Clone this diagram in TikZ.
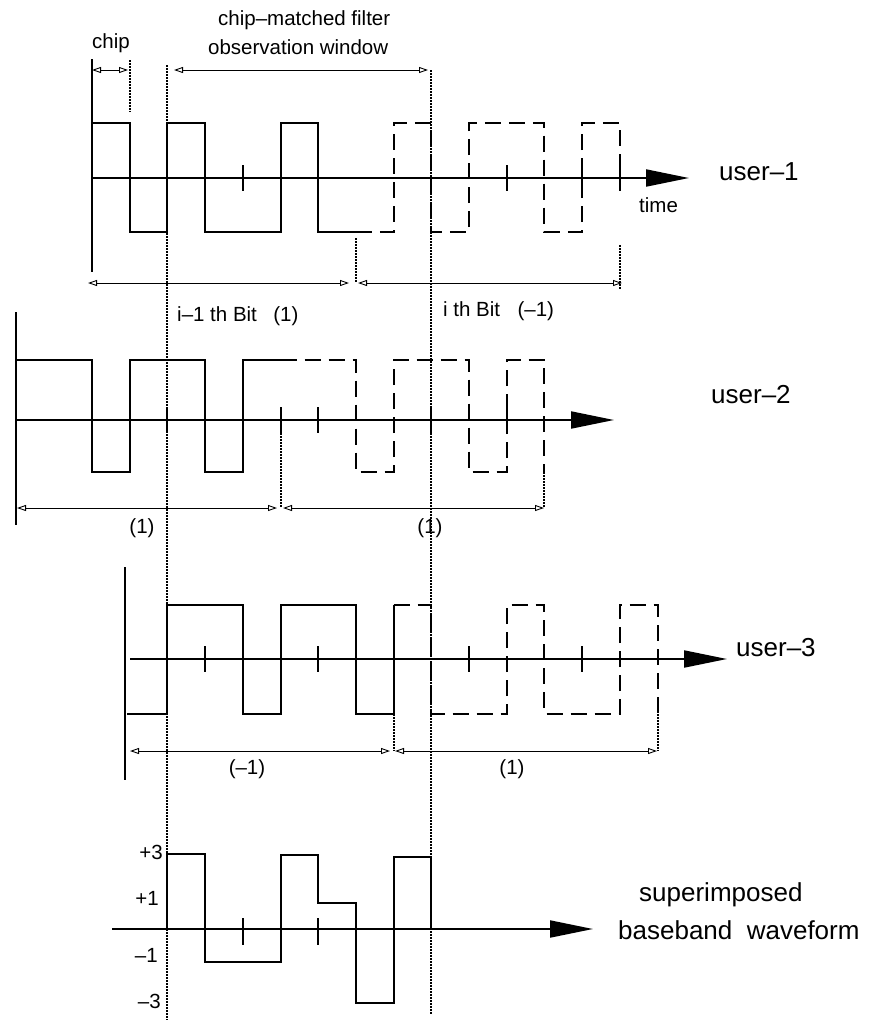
\documentclass[tikz,border=0pt]{standalone}
\usepackage{fontspec}
\setmainfont{Liberation Sans}
\usetikzlibrary{arrows.meta, positioning}

\begin{document}
\begin{tikzpicture}[
    x=1pt, y=-1pt,
    axis/.style={line width=2pt, -{Triangle[length=43pt, width=17pt]}},
    vaxis/.style={line width=2pt},
    wave/.style={line width=2pt},
    later/.style={line width=2pt, dash pattern=on 16pt off 8pt},
    chipmark/.style={line width=2pt},
    guide/.style={line width=2pt, dash pattern=on 1.5pt off 1.5pt},
    span/.style={line width=0.9pt, {Triangle[open, length=9pt, width=6pt]}-{Triangle[open, length=9pt, width=6pt]}},
    big/.style={inner sep=0pt, anchor=base west, font=\fontsize{26}{30}\selectfont},
    lbl/.style={inner sep=0pt, anchor=base west, font=\fontsize{20.5}{24}\selectfont},
    lvl/.style={inner sep=0pt, anchor=base east, font=\fontsize{20.5}{24}\selectfont}
  ]
  \useasboundingbox (0,0) rectangle (876,1026);

  % Observation window
  \node[lbl] (chip) at (92,48) {chip};
  \node[lbl] (cmf) at (218,25) {chip--matched filter};
  \node[lbl] (obs) at (208,54) {observation window};
  \coordinate (chipL) at (92,70);
  \coordinate (chipR) at (128,70);
  \coordinate (winL) at (174,70);
  \coordinate (winR) at (428,70);
  \draw[span] (chipL) -- (chipR);
  \draw[span] (winL) -- (winR);
  \draw[guide] (129.7,60) -- (129.7,112);
  \draw[guide] (167.4,65) -- (167.4,1020);
  \draw[guide] (431.3,70) -- (431.3,1015);

  % User 1
  \draw[vaxis] (92,59) -- (92,272);
  \draw[axis] (92,178) -- (689,178);
  \foreach \n in {6,13,15,16}
    \draw[chipmark] ({16.6+37.7*\n},165) -- ++(0,26);
  \draw[wave] (92,123) -| (129.7,232) -| (167.4,123) -| (205.1,232) -| (280.5,123) -| (318.2,232) -- (355.9,232);
  \draw[later] (355.9,232) -| (393.6,123) -| (431.3,232) -| (469,123) -| (544.4,232) -| (582.1,123) -| (619.8,178);
  \node[lbl] (time) at (639,212) {time};
  \node[big] (u1) at (719,180) {user--1};
  \coordinate (b1aL) at (88,283);
  \coordinate (b1aR) at (349,283);
  \coordinate (b1bL) at (358,283);
  \coordinate (b1bR) at (622,283);
  \draw[span] (b1aL) -- (b1aR);
  \draw[span] (b1bL) -- (b1bR);
  \draw[guide] (355.9,238) -- (355.9,283);
  \draw[guide] (619.8,245) -- (619.8,290);
  \node[lbl] (bitA) at (177,321) {i--1 th Bit};
  \node[lbl, right=16pt of bitA.base east, anchor=base west] (bitAv) {(1)};
  \node[lbl] (bitB) at (443,316) {i th Bit};
  \node[lbl, right=17pt of bitB.base east, anchor=base west] (bitBv) {(--1)};

  % User 2
  \draw[vaxis] (16,312) -- (16,525);
  \draw[axis] (16,420) -- (614,420);
  \foreach \n in {4,5,7,8,11,13}
    \draw[chipmark] ({16.6+37.7*\n},407) -- ++(0,26);
  \draw[wave] (16.6,360) -| (92,472) -| (129.7,360) -| (205.1,472) -| (242.8,360) -- (280.5,360);
  \draw[later] (280.5,360) -| (355.9,472) -| (393.6,360) -| (469,472) -| (506.7,360) -| (544.4,472);
  \node[big] (u2) at (711,403) {user--2};
  \coordinate (b2aL) at (17,508);
  \coordinate (b2aR) at (277,508);
  \coordinate (b2bL) at (283,508);
  \coordinate (b2bR) at (544,508);
  \draw[span] (b2aL) -- (b2aR);
  \draw[span] (b2bL) -- (b2bR);
  \draw[guide] (280.5,433) -- (280.5,508);
  \draw[guide] (544.4,472) -- (544.4,508);
  \node[lbl, anchor=base] (b2av) at (142,533) {(1)};
  \node[lbl, anchor=base] (b2bv) at (430,533) {(1)};

  % User 3
  \draw[vaxis] (125,567) -- (125,780);
  \draw[axis] (130,659) -- (727,659);
  \foreach \n in {5,8,12,15}
    \draw[chipmark] ({16.6+37.7*\n},646) -- ++(0,26);
  \draw[wave] (127,714) -| (167.4,605) -| (242.8,714) -| (280.5,605) -| (355.9,714) -| (393.6,605);
  \draw[later] (393.6,605) -| (431.3,714) -| (506.7,605) -| (544.4,714) -| (619.8,605) -| (657.5,714);
  \node[big] (u3) at (736,656) {user--3};
  \coordinate (b3aL) at (130,751);
  \coordinate (b3aR) at (390,751);
  \coordinate (b3bL) at (395,751);
  \coordinate (b3bR) at (657,751);
  \draw[span] (b3aL) -- (b3aR);
  \draw[span] (b3bL) -- (b3bR);
  \draw[guide] (393.6,714) -- (393.6,751);
  \draw[guide] (657.5,714) -- (657.5,751);
  \node[lbl, anchor=base] (b3av) at (247,774) {(--1)};
  \node[lbl, anchor=base] (b3bv) at (512,774) {(1)};

  % Superimposed
  \draw[axis] (112,929) -- (593,929);
  \foreach \n in {6,8}
    \draw[chipmark] ({16.6+37.7*\n},918) -- ++(0,27);
  \draw[wave] (167.4,929) -- (167.4,854) -| (205.1,962) -| (280.5,855) -| (318.2,903) -| (355.9,1003) -| (393.6,857) -| (431.3,929);
  \node[lvl] (p3) at (163,859) {+3};
  \node[lvl] (p1) at (159,905) {+1};
  \node[lvl] (m1) at (158,962) {--1};
  \node[lvl] (m3) at (161,1008) {--3};
  \node[big] (sup) at (639,901) {superimposed};
  \node[big] (bbw) at (618,939) {baseband\ \ waveform};

\end{tikzpicture}
\end{document}
